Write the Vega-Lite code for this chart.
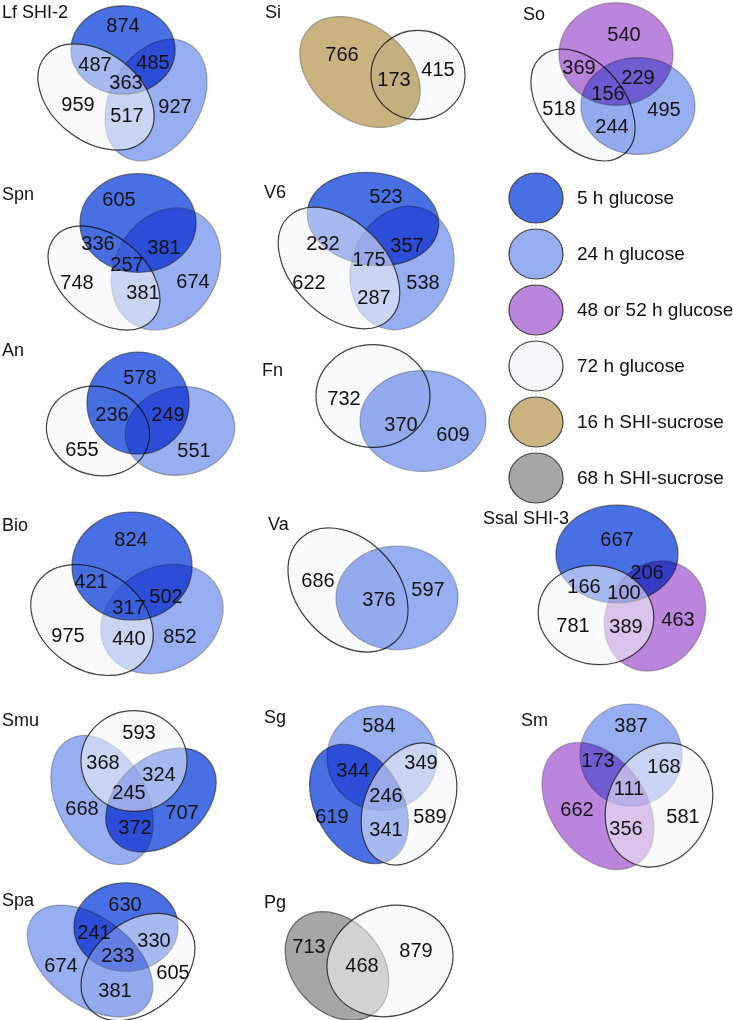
{
  "$schema": "https://vega.github.io/schema/vega-lite/v6.json",
  "padding": 0,
  "background": "white",
  "bounds": "flush",
  "config": {"view": {"stroke": null}, "font": "Liberation Sans"},
  "data": {"values": [
    {"panel":"Lf SHI-2","row":1,"col":1,"kind":"set","series":"24 h glucose","x":156,"y":97,"axis":65,"ratio":0.7,"angle":120},
    {"panel":"Lf SHI-2","row":1,"col":1,"kind":"set","series":"5 h glucose","x":123,"y":47,"axis":52,"ratio":0.85,"angle":0},
    {"panel":"Lf SHI-2","row":1,"col":1,"kind":"set","series":"72 h glucose","x":96,"y":94,"axis":65,"ratio":0.68,"angle":38},
    {"panel":"Lf SHI-2","row":1,"col":1,"kind":"count","x":123,"y":23,"count":874},
    {"panel":"Lf SHI-2","row":1,"col":1,"kind":"count","x":95,"y":62,"count":487},
    {"panel":"Lf SHI-2","row":1,"col":1,"kind":"count","x":153,"y":60,"count":485},
    {"panel":"Lf SHI-2","row":1,"col":1,"kind":"count","x":126,"y":80,"count":363},
    {"panel":"Lf SHI-2","row":1,"col":1,"kind":"count","x":78,"y":102,"count":959},
    {"panel":"Lf SHI-2","row":1,"col":1,"kind":"count","x":127,"y":113,"count":517},
    {"panel":"Lf SHI-2","row":1,"col":1,"kind":"count","x":175,"y":104,"count":927},
    {"panel":"Lf SHI-2","row":1,"col":1,"kind":"title","x":2,"y":10},

    {"panel":"Si","row":1,"col":2,"kind":"set","series":"72 h glucose","x":174,"y":72,"axis":47,"ratio":0.95,"angle":0},
    {"panel":"Si","row":1,"col":2,"kind":"set","series":"16 h SHI-sucrose","x":116,"y":69,"axis":67,"ratio":0.7,"angle":38},
    {"panel":"Si","row":1,"col":2,"kind":"count","x":98,"y":52,"count":766},
    {"panel":"Si","row":1,"col":2,"kind":"count","x":150,"y":77,"count":173},
    {"panel":"Si","row":1,"col":2,"kind":"count","x":194,"y":67,"count":415},
    {"panel":"Si","row":1,"col":2,"kind":"title","x":21,"y":10},

    {"panel":"So","row":1,"col":3,"kind":"set","series":"72 h glucose","x":95,"y":102,"axis":64,"ratio":0.65,"angle":50},
    {"panel":"So","row":1,"col":3,"kind":"set","series":"48 or 52 h glucose","x":128,"y":51,"axis":57,"ratio":0.9,"angle":0},
    {"panel":"So","row":1,"col":3,"kind":"set","series":"24 h glucose","x":150,"y":103,"axis":57,"ratio":0.85,"angle":0},
    {"panel":"So","row":1,"col":3,"kind":"count","x":136,"y":32,"count":540},
    {"panel":"So","row":1,"col":3,"kind":"count","x":91,"y":65,"count":369},
    {"panel":"So","row":1,"col":3,"kind":"count","x":150,"y":75,"count":229},
    {"panel":"So","row":1,"col":3,"kind":"count","x":120,"y":91,"count":156},
    {"panel":"So","row":1,"col":3,"kind":"count","x":71,"y":106,"count":518},
    {"panel":"So","row":1,"col":3,"kind":"count","x":124,"y":124,"count":244},
    {"panel":"So","row":1,"col":3,"kind":"count","x":176,"y":107,"count":495},
    {"panel":"So","row":1,"col":3,"kind":"title","x":35,"y":12},

    {"panel":"Spn","row":2,"col":1,"kind":"set","series":"24 h glucose","x":166,"y":96,"axis":64,"ratio":0.8,"angle":120},
    {"panel":"Spn","row":2,"col":1,"kind":"set","series":"72 h glucose","x":104,"y":105,"axis":64,"ratio":0.65,"angle":40},
    {"panel":"Spn","row":2,"col":1,"kind":"set","series":"5 h glucose","x":138,"y":50,"axis":58,"ratio":0.85,"angle":0},
    {"panel":"Spn","row":2,"col":1,"kind":"count","x":119,"y":27,"count":605},
    {"panel":"Spn","row":2,"col":1,"kind":"count","x":98,"y":71,"count":336},
    {"panel":"Spn","row":2,"col":1,"kind":"count","x":164,"y":75,"count":381},
    {"panel":"Spn","row":2,"col":1,"kind":"count","x":127,"y":92,"count":257},
    {"panel":"Spn","row":2,"col":1,"kind":"count","x":77,"y":110,"count":748},
    {"panel":"Spn","row":2,"col":1,"kind":"count","x":143,"y":120,"count":381},
    {"panel":"Spn","row":2,"col":1,"kind":"count","x":193,"y":109,"count":674},
    {"panel":"Spn","row":2,"col":1,"kind":"title","x":2,"y":22},

    {"panel":"V6","row":2,"col":2,"kind":"set","series":"24 h glucose","x":158,"y":95,"axis":63,"ratio":0.8,"angle":110},
    {"panel":"V6","row":2,"col":2,"kind":"set","series":"5 h glucose","x":129,"y":46,"axis":66,"ratio":0.7,"angle":8},
    {"panel":"V6","row":2,"col":2,"kind":"set","series":"72 h glucose","x":95,"y":95,"axis":72,"ratio":0.65,"angle":45},
    {"panel":"V6","row":2,"col":2,"kind":"count","x":142,"y":24,"count":523},
    {"panel":"V6","row":2,"col":2,"kind":"count","x":79,"y":71,"count":232},
    {"panel":"V6","row":2,"col":2,"kind":"count","x":163,"y":73,"count":357},
    {"panel":"V6","row":2,"col":2,"kind":"count","x":125,"y":87,"count":175},
    {"panel":"V6","row":2,"col":2,"kind":"count","x":65,"y":110,"count":622},
    {"panel":"V6","row":2,"col":2,"kind":"count","x":130,"y":125,"count":287},
    {"panel":"V6","row":2,"col":2,"kind":"count","x":179,"y":110,"count":538},
    {"panel":"V6","row":2,"col":2,"kind":"title","x":20,"y":20},

    {"panel":"An","row":3,"col":1,"kind":"set","series":"72 h glucose","x":98,"y":88,"axis":52,"ratio":0.85,"angle":15},
    {"panel":"An","row":3,"col":1,"kind":"set","series":"24 h glucose","x":180,"y":88,"axis":55,"ratio":0.8,"angle":170},
    {"panel":"An","row":3,"col":1,"kind":"set","series":"5 h glucose","x":138,"y":60,"axis":51,"ratio":1,"angle":0},
    {"panel":"An","row":3,"col":1,"kind":"count","x":140,"y":35,"count":578},
    {"panel":"An","row":3,"col":1,"kind":"count","x":112,"y":72,"count":236},
    {"panel":"An","row":3,"col":1,"kind":"count","x":168,"y":72,"count":249},
    {"panel":"An","row":3,"col":1,"kind":"count","x":82,"y":107,"count":655},
    {"panel":"An","row":3,"col":1,"kind":"count","x":194,"y":108,"count":551},
    {"panel":"An","row":3,"col":1,"kind":"title","x":2,"y":8},

    {"panel":"Fn","row":3,"col":2,"kind":"set","series":"72 h glucose","x":129,"y":53,"axis":57,"ratio":0.9,"angle":0},
    {"panel":"Fn","row":3,"col":2,"kind":"set","series":"24 h glucose","x":179,"y":78,"axis":63,"ratio":0.8,"angle":0},
    {"panel":"Fn","row":3,"col":2,"kind":"count","x":100,"y":56,"count":732},
    {"panel":"Fn","row":3,"col":2,"kind":"count","x":157,"y":82,"count":370},
    {"panel":"Fn","row":3,"col":2,"kind":"count","x":209,"y":92,"count":609},
    {"panel":"Fn","row":3,"col":2,"kind":"title","x":18,"y":28},

    {"panel":"Bio","row":4,"col":1,"kind":"set","series":"24 h glucose","x":162,"y":106,"axis":64,"ratio":0.8,"angle":150},
    {"panel":"Bio","row":4,"col":1,"kind":"set","series":"72 h glucose","x":92,"y":107,"axis":66,"ratio":0.75,"angle":35},
    {"panel":"Bio","row":4,"col":1,"kind":"set","series":"5 h glucose","x":132,"y":53,"axis":60,"ratio":0.9,"angle":0},
    {"panel":"Bio","row":4,"col":1,"kind":"count","x":131,"y":27,"count":824},
    {"panel":"Bio","row":4,"col":1,"kind":"count","x":91,"y":69,"count":421},
    {"panel":"Bio","row":4,"col":1,"kind":"count","x":166,"y":84,"count":502},
    {"panel":"Bio","row":4,"col":1,"kind":"count","x":129,"y":95,"count":317},
    {"panel":"Bio","row":4,"col":1,"kind":"count","x":68,"y":123,"count":975},
    {"panel":"Bio","row":4,"col":1,"kind":"count","x":129,"y":126,"count":440},
    {"panel":"Bio","row":4,"col":1,"kind":"count","x":180,"y":124,"count":852},
    {"panel":"Bio","row":4,"col":1,"kind":"title","x":2,"y":13},

    {"panel":"Va","row":4,"col":2,"kind":"set","series":"72 h glucose","x":104,"y":77,"axis":70,"ratio":0.72,"angle":48},
    {"panel":"Va","row":4,"col":2,"kind":"set","series":"24 h glucose","x":153,"y":85,"axis":61,"ratio":0.85,"angle":0},
    {"panel":"Va","row":4,"col":2,"kind":"count","x":74,"y":68,"count":686},
    {"panel":"Va","row":4,"col":2,"kind":"count","x":135,"y":87,"count":376},
    {"panel":"Va","row":4,"col":2,"kind":"count","x":184,"y":77,"count":597},
    {"panel":"Va","row":4,"col":2,"kind":"title","x":24,"y":12},

    {"panel":"Ssal SHI-3","row":4,"col":3,"kind":"set","series":"48 or 52 h glucose","x":167,"y":103,"axis":57,"ratio":0.85,"angle":120},
    {"panel":"Ssal SHI-3","row":4,"col":3,"kind":"set","series":"5 h glucose","x":129,"y":41,"axis":61,"ratio":0.8,"angle":0},
    {"panel":"Ssal SHI-3","row":4,"col":3,"kind":"set","series":"72 h glucose","x":108,"y":102,"axis":58,"ratio":0.85,"angle":10},
    {"panel":"Ssal SHI-3","row":4,"col":3,"kind":"count","x":129,"y":27,"count":667},
    {"panel":"Ssal SHI-3","row":4,"col":3,"kind":"count","x":159,"y":60,"count":206},
    {"panel":"Ssal SHI-3","row":4,"col":3,"kind":"count","x":96,"y":74,"count":166},
    {"panel":"Ssal SHI-3","row":4,"col":3,"kind":"count","x":136,"y":80,"count":100},
    {"panel":"Ssal SHI-3","row":4,"col":3,"kind":"count","x":85,"y":113,"count":781},
    {"panel":"Ssal SHI-3","row":4,"col":3,"kind":"count","x":138,"y":114,"count":389},
    {"panel":"Ssal SHI-3","row":4,"col":3,"kind":"count","x":190,"y":107,"count":463},
    {"panel":"Ssal SHI-3","row":4,"col":3,"kind":"title","x":-5,"y":6},

    {"panel":"Smu","row":5,"col":1,"kind":"set","series":"24 h glucose","x":102,"y":117,"axis":69,"ratio":0.65,"angle":62},
    {"panel":"Smu","row":5,"col":1,"kind":"set","series":"5 h glucose","x":161,"y":117,"axis":62,"ratio":0.7,"angle":140},
    {"panel":"Smu","row":5,"col":1,"kind":"set","series":"72 h glucose","x":134,"y":78,"axis":53,"ratio":0.95,"angle":0},
    {"panel":"Smu","row":5,"col":1,"kind":"count","x":139,"y":50,"count":593},
    {"panel":"Smu","row":5,"col":1,"kind":"count","x":103,"y":80,"count":368},
    {"panel":"Smu","row":5,"col":1,"kind":"count","x":159,"y":92,"count":324},
    {"panel":"Smu","row":5,"col":1,"kind":"count","x":129,"y":110,"count":245},
    {"panel":"Smu","row":5,"col":1,"kind":"count","x":82,"y":126,"count":668},
    {"panel":"Smu","row":5,"col":1,"kind":"count","x":182,"y":130,"count":707},
    {"panel":"Smu","row":5,"col":1,"kind":"count","x":135,"y":145,"count":372},
    {"panel":"Smu","row":5,"col":1,"kind":"title","x":2,"y":38},

    {"panel":"Sg","row":5,"col":2,"kind":"set","series":"24 h glucose","x":138,"y":75,"axis":55,"ratio":0.95,"angle":0},
    {"panel":"Sg","row":5,"col":2,"kind":"set","series":"5 h glucose","x":115,"y":121,"axis":64,"ratio":0.68,"angle":60},
    {"panel":"Sg","row":5,"col":2,"kind":"set","series":"72 h glucose","x":165,"y":121,"axis":64,"ratio":0.68,"angle":115},
    {"panel":"Sg","row":5,"col":2,"kind":"count","x":135,"y":43,"count":584},
    {"panel":"Sg","row":5,"col":2,"kind":"count","x":109,"y":88,"count":344},
    {"panel":"Sg","row":5,"col":2,"kind":"count","x":177,"y":80,"count":349},
    {"panel":"Sg","row":5,"col":2,"kind":"count","x":142,"y":113,"count":246},
    {"panel":"Sg","row":5,"col":2,"kind":"count","x":88,"y":134,"count":619},
    {"panel":"Sg","row":5,"col":2,"kind":"count","x":186,"y":134,"count":589},
    {"panel":"Sg","row":5,"col":2,"kind":"count","x":142,"y":147,"count":341},
    {"panel":"Sg","row":5,"col":2,"kind":"title","x":20,"y":35},

    {"panel":"Sm","row":5,"col":3,"kind":"set","series":"48 or 52 h glucose","x":110,"y":123,"axis":70,"ratio":0.68,"angle":55},
    {"panel":"Sm","row":5,"col":3,"kind":"set","series":"24 h glucose","x":143,"y":72,"axis":51,"ratio":1,"angle":0},
    {"panel":"Sm","row":5,"col":3,"kind":"set","series":"72 h glucose","x":171,"y":122,"axis":64,"ratio":0.8,"angle":115},
    {"panel":"Sm","row":5,"col":3,"kind":"count","x":143,"y":43,"count":387},
    {"panel":"Sm","row":5,"col":3,"kind":"count","x":110,"y":78,"count":173},
    {"panel":"Sm","row":5,"col":3,"kind":"count","x":176,"y":84,"count":168},
    {"panel":"Sm","row":5,"col":3,"kind":"count","x":141,"y":106,"count":111},
    {"panel":"Sm","row":5,"col":3,"kind":"count","x":89,"y":127,"count":662},
    {"panel":"Sm","row":5,"col":3,"kind":"count","x":195,"y":134,"count":581},
    {"panel":"Sm","row":5,"col":3,"kind":"count","x":138,"y":146,"count":356},
    {"panel":"Sm","row":5,"col":3,"kind":"title","x":33,"y":38},

    {"panel":"Spa","row":6,"col":1,"kind":"set","series":"5 h glucose","x":126,"y":74,"axis":52,"ratio":0.85,"angle":0},
    {"panel":"Spa","row":6,"col":1,"kind":"set","series":"72 h glucose","x":138,"y":114,"axis":64,"ratio":0.7,"angle":140},
    {"panel":"Spa","row":6,"col":1,"kind":"set","series":"24 h glucose","x":90,"y":108,"axis":72,"ratio":0.6,"angle":38},
    {"panel":"Spa","row":6,"col":1,"kind":"count","x":125,"y":52,"count":630},
    {"panel":"Spa","row":6,"col":1,"kind":"count","x":94,"y":80,"count":241},
    {"panel":"Spa","row":6,"col":1,"kind":"count","x":154,"y":88,"count":330},
    {"panel":"Spa","row":6,"col":1,"kind":"count","x":118,"y":103,"count":233},
    {"panel":"Spa","row":6,"col":1,"kind":"count","x":61,"y":113,"count":674},
    {"panel":"Spa","row":6,"col":1,"kind":"count","x":173,"y":120,"count":605},
    {"panel":"Spa","row":6,"col":1,"kind":"count","x":115,"y":138,"count":381},
    {"panel":"Spa","row":6,"col":1,"kind":"title","x":2,"y":48},

    {"panel":"Pg","row":6,"col":2,"kind":"set","series":"68 h SHI-sucrose","x":93,"y":113,"axis":60,"ratio":0.75,"angle":50},
    {"panel":"Pg","row":6,"col":2,"kind":"set","series":"72 h glucose","x":146,"y":108,"axis":64,"ratio":0.85,"angle":160},
    {"panel":"Pg","row":6,"col":2,"kind":"count","x":65,"y":94,"count":713},
    {"panel":"Pg","row":6,"col":2,"kind":"count","x":118,"y":113,"count":468},
    {"panel":"Pg","row":6,"col":2,"kind":"count","x":172,"y":98,"count":879},
    {"panel":"Pg","row":6,"col":2,"kind":"title","x":20,"y":50}
  ]},
  "facet": {
    "row": {"field": "row", "type": "ordinal", "header": null, "title": null},
    "column": {"field": "col", "type": "ordinal", "header": null, "title": null}
  },
  "spacing": {"row": 0, "column": 0},
  "spec": {
    "width": 244,
    "height": 170,
    "layer": [
      {
        "transform": [{"filter": "datum.kind === 'set'"}],
        "mark": {
          "type": "point",
          "filled": true,
          "opacity": 1,
          "stroke": "#2b2b2b",
          "strokeWidth": 1.2,
          "blend": {"expr": "datum.series === '72 h glucose' ? 'normal' : 'multiply'"}
        },
        "encoding": {
          "x": {"field": "x", "type": "quantitative", "scale": {"domain": [0, 244], "nice": false, "zero": false}, "axis": null},
          "y": {"field": "y", "type": "quantitative", "scale": {"domain": [0, 170], "reverse": true, "nice": false, "zero": false}, "axis": null},
          "color": {
            "field": "series",
            "type": "nominal",
            "scale": {
              "domain": ["5 h glucose", "24 h glucose", "48 or 52 h glucose", "72 h glucose", "16 h SHI-sucrose", "68 h SHI-sucrose"],
              "range": ["#4870e4", "#98aef2", "#bb85dd", "#f4f5f9", "#c9b37f", "#a6a6a6"]
            },
            "legend": {
              "orient": "none",
              "legendX": 508,
              "legendY": 167,
              "title": null,
              "symbolType": "M-1,0A1,0.926 0 0,1 1,0A1,0.926 0 0,1 -1,0Z",
              "symbolSize": 2916,
              "symbolStrokeColor": "#444444",
              "symbolStrokeWidth": 1.2,
              "symbolOpacity": 1,
              "labelFont": "Liberation Sans",
              "labelFontSize": 19,
              "labelColor": "#111111",
              "labelOffset": 13,
              "labelLimit": 300,
              "rowPadding": -2,
              "encode": {"symbols": {"update": {"fillOpacity": {"value": 1}, "opacity": {"value": 1}}}}
            }
          },
          "shape": {
            "field": "ratio",
            "type": "nominal",
            "scale": {
              "domain": [0.6, 0.65, 0.68, 0.7, 0.72, 0.75, 0.8, 0.85, 0.9, 0.95, 1],
              "range": [
                "M-1,0A1,0.6 0 0,1 1,0A1,0.6 0 0,1 -1,0Z",
                "M-1,0A1,0.65 0 0,1 1,0A1,0.65 0 0,1 -1,0Z",
                "M-1,0A1,0.68 0 0,1 1,0A1,0.68 0 0,1 -1,0Z",
                "M-1,0A1,0.7 0 0,1 1,0A1,0.7 0 0,1 -1,0Z",
                "M-1,0A1,0.72 0 0,1 1,0A1,0.72 0 0,1 -1,0Z",
                "M-1,0A1,0.75 0 0,1 1,0A1,0.75 0 0,1 -1,0Z",
                "M-1,0A1,0.8 0 0,1 1,0A1,0.8 0 0,1 -1,0Z",
                "M-1,0A1,0.85 0 0,1 1,0A1,0.85 0 0,1 -1,0Z",
                "M-1,0A1,0.9 0 0,1 1,0A1,0.9 0 0,1 -1,0Z",
                "M-1,0A1,0.95 0 0,1 1,0A1,0.95 0 0,1 -1,0Z",
                "M-1,0A1,1 0 0,1 1,0A1,1 0 0,1 -1,0Z"
              ]
            },
            "legend": null
          },
          "size": {"field": "axis", "type": "quantitative", "scale": {"type": "pow", "exponent": 2, "domain": [0, 100], "range": [0, 40000]}, "legend": null},
          "angle": {"field": "angle", "type": "quantitative", "scale": {"domain": [0, 360], "range": [0, 360]}, "legend": null},
          "fillOpacity": {"condition": {"test": "datum.series === '72 h glucose'", "value": 0.55}, "value": 1},
          "strokeOpacity": {"condition": [{"test": "datum.series === '72 h glucose'", "value": 0.9}, {"test": "datum.series === '5 h glucose' || datum.series === '68 h SHI-sucrose'", "value": 0.65}], "value": 0.35}
        }
      },
      {
        "transform": [{"filter": "datum.kind === 'count'"}],
        "mark": {"type": "text", "fontSize": 20, "font": "Liberation Sans", "color": "#111111", "align": "center", "baseline": "middle"},
        "encoding": {
          "x": {"field": "x", "type": "quantitative"},
          "y": {"field": "y", "type": "quantitative"},
          "text": {"field": "count", "type": "nominal"}
        }
      },
      {
        "transform": [{"filter": "datum.kind === 'title'"}],
        "mark": {"type": "text", "fontSize": 18, "font": "Liberation Sans", "color": "#111111", "align": "left", "baseline": "middle"},
        "encoding": {
          "x": {"field": "x", "type": "quantitative"},
          "y": {"field": "y", "type": "quantitative"},
          "text": {"field": "panel", "type": "nominal"}
        }
      }
    ]
  }
}
